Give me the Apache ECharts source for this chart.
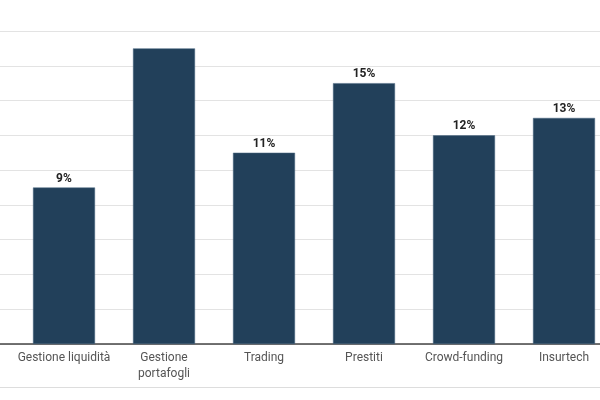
<!DOCTYPE html>
<html>
<head>
<meta charset="utf-8">
<script src="https://cdn.jsdelivr.net/npm/echarts@6/dist/echarts.min.js"></script>
<style>html,body{margin:0;padding:0;background:#fff}#c{width:600px;height:400px}</style>
</head>
<body>
<div id="c"></div>
<script>
var categories = ['Gestione liquidità', 'Gestione\nportafogli', 'Trading', 'Prestiti', 'Crowd-funding', 'Insurtech'];
var values = [9, 17, 11, 15, 12, 13];
var showLabel = [true, false, true, true, true, true];
var yMin = 0, yMax = 18, yStep = 2;

var chart = echarts.init(document.getElementById('c'), null, {renderer: 'canvas'});
var data = values.map(function (v, i) {
  return {value: v, label: {show: showLabel[i]}};
});
chart.setOption({
  animation: false,
  backgroundColor: '#fff',
  textStyle: {fontFamily: 'Roboto'},
  grid: [
    {left: 0, right: 0, top: 31, bottom: 56, outerBoundsMode: 'none', containLabel: false},
    {left: 14, right: -14, top: 31, bottom: 56, outerBoundsMode: 'none', containLabel: false}
  ],
  xAxis: [
    {gridIndex: 0, type: 'category', data: [''], position: 'bottom',
     axisLine: {show: true, lineStyle: {color: '#444', width: 1.5}},
     axisTick: {show: false}, axisLabel: {show: false}, splitLine: {show: false}},
    {gridIndex: 0, type: 'category', data: [''], position: 'bottom', offset: 43,
     axisLine: {show: true, lineStyle: {color: '#dddddd', width: 1}},
     axisTick: {show: false}, axisLabel: {show: false}, splitLine: {show: false}},
    {gridIndex: 1, type: 'category', data: categories, boundaryGap: true,
     axisLine: {show: false}, axisTick: {show: false},
     axisLabel: {color: '#555', fontSize: 12, fontFamily: 'Roboto', margin: 6, lineHeight: 16, interval: 0}}
  ],
  yAxis: [
    {gridIndex: 0, type: 'value', min: yMin, max: yMax, interval: yStep,
     axisLine: {show: false}, axisTick: {show: false}, axisLabel: {show: false},
     splitLine: {show: true, lineStyle: {color: '#e3e3e3', width: 1}}},
    {gridIndex: 1, type: 'value', min: yMin, max: yMax, interval: yStep,
     axisLine: {show: false}, axisTick: {show: false}, axisLabel: {show: false},
     splitLine: {show: false}}
  ],
  series: [{
    type: 'bar',
    xAxisIndex: 2,
    yAxisIndex: 1,
    data: data,
    barWidth: '62%',
    itemStyle: {color: '#22405a', borderColor: '#4a6680', borderWidth: 0.5},
    label: {show: true, position: 'top', distance: 3, formatter: '{c}%',
            color: '#222', fontSize: 12, fontWeight: 'bold', fontFamily: 'Roboto'}
  }]
});
</script>
</body>
</html>
